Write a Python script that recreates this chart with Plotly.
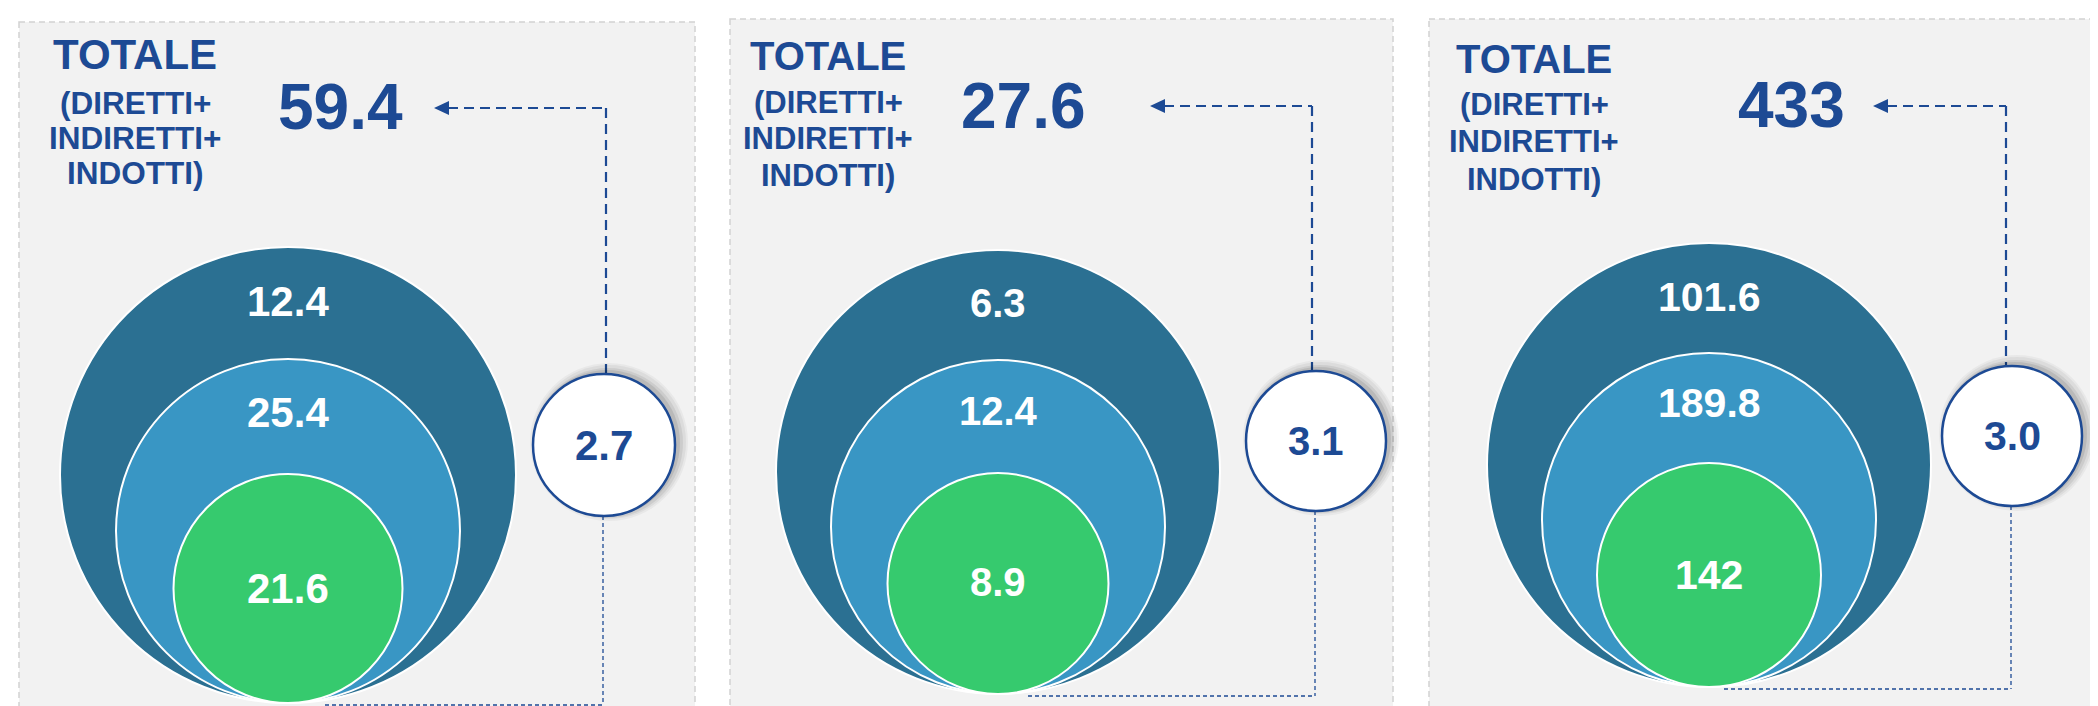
import plotly.graph_objects as go

# ---------------- data ----------------
panels_total = [59.4, 27.6, 433]
outer_values = [12.4, 6.3, 101.6]
middle_values = [25.4, 12.4, 189.8]
inner_values = [21.6, 8.9, 142]
multipliers = [2.7, 3.1, 3.0]
title_main = "TOTALE"
title_sub = ["(DIRETTI+", "INDIRETTI+", "INDOTTI)"]

# ---------------- style / layout ----------------
W, H = 2098, 706
DARK = "#2b7092"
MID = "#3996c4"
GREEN = "#36ca6e"
NAVY = "#1d4a94"
PANEL_BG = "#f2f2f2"
PANEL_LINE = "#d2d2d2"
FONT = "Liberation Sans, Arial"

# per panel geometry (pixels)
geo = [
    dict(px0=11, px1=687, py0=14, cx=280, bottom=695, R=228, r2=172, r3=114.5,
         sx=596, sy=437, sr=71, tx=127, ty=[46, 95, 130, 165], totx=332, toty=99,
         arrow_y=100, tip=426, vx=598, by=697, bx_end=317, ly=[293, 404, 580],
         ts=42, ss=31.5, tots=64, ls=42),
    dict(px0=722, px1=1385, py0=11, cx=990, bottom=686, R=222, r2=167, r3=110.5,
         sx=1308, sy=433, sr=70, tx=820, ty=[48, 94, 130, 167], totx=1015, toty=98,
         arrow_y=98, tip=1142, vx=1304, by=688, bx_end=1020, ly=[295, 403, 574],
         ts=40, ss=31, tots=64, ls=40),
    dict(px0=1421, px1=2120, py0=11, cx=1701, bottom=679, R=222, r2=167, r3=112,
         sx=2004, sy=428, sr=70, tx=1526, ty=[51, 96, 133, 171], totx=1783, toty=97,
         arrow_y=98, tip=1865, vx=1998, by=681, bx_end=1716, ly=[289, 395, 567],
         ts=40, ss=31, tots=64, ls=41),
]


def fmt(v):
    return str(v)


fig = go.Figure()
shapes = []
annotations = []

for i, g in enumerate(geo):
    # panel background
    shapes.append(dict(type="rect", x0=g["px0"], x1=g["px1"], y0=g["py0"], y1=H + 20,
                       fillcolor=PANEL_BG, line=dict(color=PANEL_LINE, width=1.5, dash="6px,4px"),
                       layer="below"))
    # nested circles (tangent at bottom)
    for r, col in [(g["R"], DARK), (g["r2"], MID), (g["r3"], GREEN)]:
        cy = g["bottom"] - r
        shapes.append(dict(type="circle", x0=g["cx"] - r, x1=g["cx"] + r, y0=cy - r, y1=cy + r,
                           fillcolor=col, line=dict(color="white", width=2)))
    # connector lines
    shapes.append(dict(type="line", x0=g["vx"], x1=g["vx"], y0=g["arrow_y"], y1=g["sy"] - g["sr"],
                       line=dict(color=NAVY, width=2.2, dash="10px,6px")))
    shapes.append(dict(type="line", x0=g["tip"] + 14, x1=g["vx"], y0=g["arrow_y"], y1=g["arrow_y"],
                       line=dict(color=NAVY, width=2.2, dash="10px,6px")))
    shapes.append(dict(type="path",
                       path=f"M {g['tip']},{g['arrow_y']} L {g['tip'] + 15},{g['arrow_y'] - 7} "
                            f"L {g['tip'] + 15},{g['arrow_y'] + 7} Z",
                       fillcolor=NAVY, line=dict(color=NAVY, width=0)))
    bvx = g["sx"] - 1
    shapes.append(dict(type="line", x0=bvx, x1=bvx, y0=g["sy"] + g["sr"], y1=g["by"],
                       line=dict(color=NAVY, width=1.3, dash="4px,3px")))
    shapes.append(dict(type="line", x0=g["bx_end"], x1=bvx, y0=g["by"], y1=g["by"],
                       line=dict(color=NAVY, width=1.3, dash="4px,3px")))
    # soft shadow for small circle (upper-right)
    for dx, dy, dr, op in [(5, -3, 8, 0.04), (5, -3, 6, 0.05), (4, -2, 4, 0.07), (3, -2, 2, 0.09)]:
        shapes.append(dict(type="circle", x0=g["sx"] - g["sr"] + dx - dr, x1=g["sx"] + g["sr"] + dx + dr,
                           y0=g["sy"] - g["sr"] + dy - dr, y1=g["sy"] + g["sr"] + dy + dr,
                           fillcolor="black", opacity=op, line=dict(width=0)))
    shapes.append(dict(type="circle", x0=g["sx"] - g["sr"], x1=g["sx"] + g["sr"],
                       y0=g["sy"] - g["sr"], y1=g["sy"] + g["sr"],
                       fillcolor="white", line=dict(color=NAVY, width=2.5)))

    # texts
    annotations.append(dict(x=g["tx"], y=g["ty"][0], text=title_main, showarrow=False,
                            font=dict(family=FONT, size=g["ts"], color=NAVY, weight="bold")))
    for j, s in enumerate(title_sub):
        annotations.append(dict(x=g["tx"], y=g["ty"][j + 1], text=s, showarrow=False,
                                font=dict(family=FONT, size=g["ss"], color=NAVY, weight="bold")))
    annotations.append(dict(x=g["totx"], y=g["toty"], text=fmt(panels_total[i]), showarrow=False,
                            font=dict(family=FONT, size=g["tots"], color=NAVY, weight="bold")))
    for v, yy in zip([outer_values[i], middle_values[i], inner_values[i]], g["ly"]):
        annotations.append(dict(x=g["cx"], y=yy, text=fmt(v), showarrow=False,
                                font=dict(family=FONT, size=g["ls"], color="white", weight="bold")))
    annotations.append(dict(x=g["sx"], y=g["sy"], text=fmt(multipliers[i]), showarrow=False,
                            font=dict(family=FONT, size=g["ls"], color=NAVY, weight="bold")))

fig.update_layout(
    width=W, height=H,
    margin=dict(l=0, r=0, t=0, b=0),
    paper_bgcolor="white", plot_bgcolor="white",
    xaxis=dict(range=[0, W], visible=False, fixedrange=True),
    yaxis=dict(range=[H, 0], visible=False, fixedrange=True),
    shapes=shapes, annotations=annotations, showlegend=False,
)
fig.write_html("out.html")
